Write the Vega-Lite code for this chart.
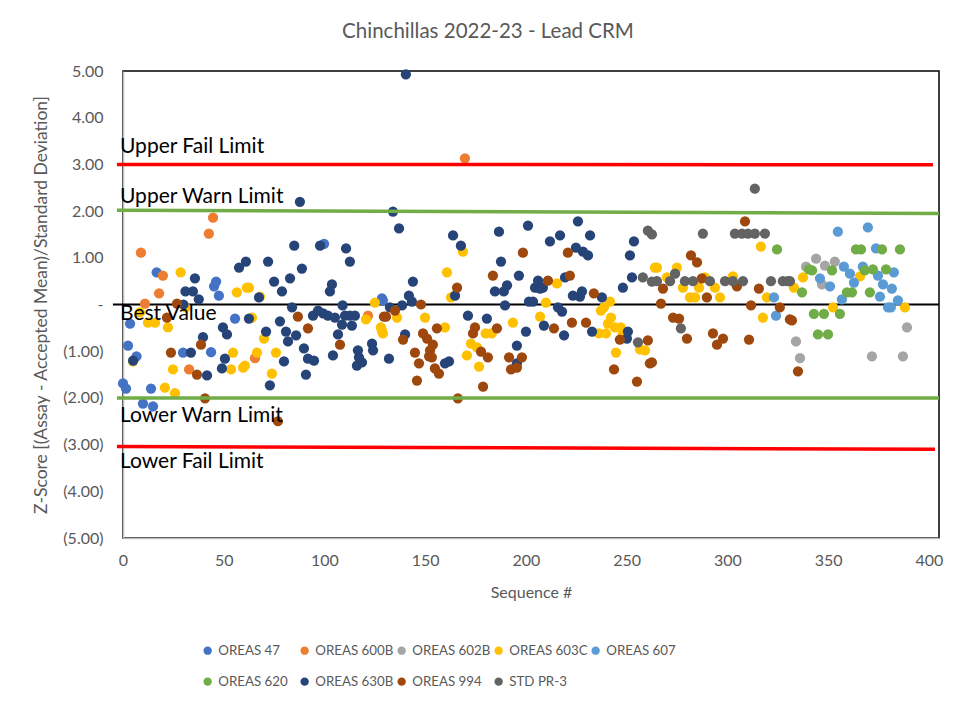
{
  "$schema": "https://vega.github.io/schema/vega-lite/v6.json",
  "autosize": "none",
  "width": 816,
  "height": 467,
  "padding": {"left": 123, "top": 71, "right": 38, "bottom": 173},
  "background": "white",
  "config": {
    "font": "Lato",
    "view": {"stroke": "black", "strokeWidth": 1.5}
  },
  "title": {
    "text": "Chinchillas 2022-23 - Lead CRM",
    "fontSize": 20.5,
    "fontWeight": "normal",
    "color": "#595959",
    "anchor": "middle",
    "dx": -43,
    "offset": 21
  },
  "datasets": {
    "points": [
      {"std": "OREAS 47", "seq": 0, "z": -1.69},
      {"std": "OREAS 47", "seq": 1.5, "z": -1.8},
      {"std": "OREAS 47", "seq": 2.5, "z": -0.88},
      {"std": "OREAS 47", "seq": 3.5, "z": -0.41},
      {"std": "OREAS 47", "seq": 6.7, "z": -1.11},
      {"std": "OREAS 47", "seq": 9.9, "z": -2.12},
      {"std": "OREAS 47", "seq": 13.9, "z": -1.8},
      {"std": "OREAS 47", "seq": 14.9, "z": -2.18},
      {"std": "OREAS 47", "seq": 16.7, "z": 0.69},
      {"std": "OREAS 47", "seq": 29.8, "z": -1.03},
      {"std": "OREAS 47", "seq": 43.7, "z": -1.02},
      {"std": "OREAS 47", "seq": 45.2, "z": 0.39},
      {"std": "OREAS 47", "seq": 46.2, "z": 0.49},
      {"std": "OREAS 47", "seq": 47.6, "z": 0.19},
      {"std": "OREAS 47", "seq": 55.6, "z": -0.3},
      {"std": "OREAS 47", "seq": 99.8, "z": 1.3},
      {"std": "OREAS 47", "seq": 128.5, "z": 0.13},
      {"std": "OREAS 47", "seq": 129, "z": 0.09},
      {"std": "OREAS 600B", "seq": 8.9, "z": 1.11},
      {"std": "OREAS 600B", "seq": 10.9, "z": 0.02},
      {"std": "OREAS 600B", "seq": 17.9, "z": 0.24},
      {"std": "OREAS 600B", "seq": 19.8, "z": 0.62},
      {"std": "OREAS 600B", "seq": 32.8, "z": -1.39},
      {"std": "OREAS 600B", "seq": 42.6, "z": 1.52},
      {"std": "OREAS 600B", "seq": 44.7, "z": 1.86},
      {"std": "OREAS 600B", "seq": 65.5, "z": -1.15},
      {"std": "OREAS 600B", "seq": 121.6, "z": -0.24},
      {"std": "OREAS 600B", "seq": 169.7, "z": 3.13},
      {"std": "OREAS 602B", "seq": 334, "z": -0.79},
      {"std": "OREAS 602B", "seq": 336, "z": -1.15},
      {"std": "OREAS 602B", "seq": 339, "z": 0.81},
      {"std": "OREAS 602B", "seq": 344, "z": 0.98},
      {"std": "OREAS 602B", "seq": 346.9, "z": 0.43},
      {"std": "OREAS 602B", "seq": 348.4, "z": 0.83},
      {"std": "OREAS 602B", "seq": 353.3, "z": 0.92},
      {"std": "OREAS 602B", "seq": 371.7, "z": -1.11},
      {"std": "OREAS 602B", "seq": 387.1, "z": -1.11},
      {"std": "OREAS 602B", "seq": 389.1, "z": -0.49},
      {"std": "OREAS 603C", "seq": 5, "z": -1.22},
      {"std": "OREAS 603C", "seq": 8.4, "z": -0.17},
      {"std": "OREAS 603C", "seq": 12.4, "z": -0.39},
      {"std": "OREAS 603C", "seq": 15.9, "z": -0.39},
      {"std": "OREAS 603C", "seq": 20.8, "z": -1.78},
      {"std": "OREAS 603C", "seq": 22.3, "z": -0.49},
      {"std": "OREAS 603C", "seq": 24.8, "z": -1.39},
      {"std": "OREAS 603C", "seq": 25.8, "z": -1.9},
      {"std": "OREAS 603C", "seq": 28.6, "z": 0.69},
      {"std": "OREAS 603C", "seq": 31, "z": -0.06},
      {"std": "OREAS 603C", "seq": 53.6, "z": -1.39},
      {"std": "OREAS 603C", "seq": 54.6, "z": -1.03},
      {"std": "OREAS 603C", "seq": 56.5, "z": 0.26},
      {"std": "OREAS 603C", "seq": 59.6, "z": -1.35},
      {"std": "OREAS 603C", "seq": 60.5, "z": -1.31},
      {"std": "OREAS 603C", "seq": 61.5, "z": 0.36},
      {"std": "OREAS 603C", "seq": 62.5, "z": 0.36},
      {"std": "OREAS 603C", "seq": 64, "z": -0.28},
      {"std": "OREAS 603C", "seq": 66.5, "z": -1.03},
      {"std": "OREAS 603C", "seq": 68, "z": 0.17},
      {"std": "OREAS 603C", "seq": 70, "z": -0.73},
      {"std": "OREAS 603C", "seq": 73.9, "z": -1.48},
      {"std": "OREAS 603C", "seq": 75.9, "z": -1.03},
      {"std": "OREAS 603C", "seq": 120.6, "z": -0.32},
      {"std": "OREAS 603C", "seq": 125, "z": 0.04},
      {"std": "OREAS 603C", "seq": 128.5, "z": -0.56},
      {"std": "OREAS 603C", "seq": 128, "z": -0.49},
      {"std": "OREAS 603C", "seq": 129, "z": -0.62},
      {"std": "OREAS 603C", "seq": 136, "z": -0.28},
      {"std": "OREAS 603C", "seq": 149.9, "z": -0.28},
      {"std": "OREAS 603C", "seq": 159.8, "z": -0.49},
      {"std": "OREAS 603C", "seq": 160.8, "z": 0.69},
      {"std": "OREAS 603C", "seq": 162.8, "z": 0.15},
      {"std": "OREAS 603C", "seq": 168.7, "z": 1.13},
      {"std": "OREAS 603C", "seq": 170.7, "z": -1.09},
      {"std": "OREAS 603C", "seq": 172.7, "z": -0.84},
      {"std": "OREAS 603C", "seq": 175.7, "z": -0.92},
      {"std": "OREAS 603C", "seq": 176.7, "z": -1.33},
      {"std": "OREAS 603C", "seq": 180, "z": -0.62},
      {"std": "OREAS 603C", "seq": 183, "z": -0.62},
      {"std": "OREAS 603C", "seq": 193.5, "z": -0.39},
      {"std": "OREAS 603C", "seq": 207, "z": -0.26},
      {"std": "OREAS 603C", "seq": 209.9, "z": 0.04},
      {"std": "OREAS 603C", "seq": 215.4, "z": 0.45},
      {"std": "OREAS 603C", "seq": 236.2, "z": -0.62},
      {"std": "OREAS 603C", "seq": 237.2, "z": -0.13},
      {"std": "OREAS 603C", "seq": 238.7, "z": -0.06},
      {"std": "OREAS 603C", "seq": 239.7, "z": -0.62},
      {"std": "OREAS 603C", "seq": 240.7, "z": -0.41},
      {"std": "OREAS 603C", "seq": 241.7, "z": 0.06},
      {"std": "OREAS 603C", "seq": 242.2, "z": -0.28},
      {"std": "OREAS 603C", "seq": 244.2, "z": -0.49},
      {"std": "OREAS 603C", "seq": 244.7, "z": -1.03},
      {"std": "OREAS 603C", "seq": 247.1, "z": -0.49},
      {"std": "OREAS 603C", "seq": 248.1, "z": -0.62},
      {"std": "OREAS 603C", "seq": 256.6, "z": -0.96},
      {"std": "OREAS 603C", "seq": 259.1, "z": -0.98},
      {"std": "OREAS 603C", "seq": 264, "z": 0.79},
      {"std": "OREAS 603C", "seq": 265, "z": 0.79},
      {"std": "OREAS 603C", "seq": 270, "z": 0.58},
      {"std": "OREAS 603C", "seq": 274.9, "z": 0.79},
      {"std": "OREAS 603C", "seq": 277.9, "z": 0.36},
      {"std": "OREAS 603C", "seq": 281.4, "z": 0.15},
      {"std": "OREAS 603C", "seq": 283.9, "z": 0.15},
      {"std": "OREAS 603C", "seq": 285.9, "z": 0.36},
      {"std": "OREAS 603C", "seq": 288.8, "z": 0.58},
      {"std": "OREAS 603C", "seq": 293.8, "z": 0.36},
      {"std": "OREAS 603C", "seq": 296.3, "z": 0.15},
      {"std": "OREAS 603C", "seq": 302.7, "z": 0.6},
      {"std": "OREAS 603C", "seq": 316.6, "z": 1.24},
      {"std": "OREAS 603C", "seq": 317.6, "z": -0.28},
      {"std": "OREAS 603C", "seq": 319.6, "z": 0.15},
      {"std": "OREAS 603C", "seq": 333, "z": 0.36},
      {"std": "OREAS 603C", "seq": 337.5, "z": 0.58},
      {"std": "OREAS 603C", "seq": 352.4, "z": -0.06},
      {"std": "OREAS 603C", "seq": 365.8, "z": 0.6},
      {"std": "OREAS 603C", "seq": 388.1, "z": -0.06},
      {"std": "OREAS 607", "seq": 323.1, "z": 0.15},
      {"std": "OREAS 607", "seq": 324.1, "z": -0.24},
      {"std": "OREAS 607", "seq": 345.9, "z": 0.56},
      {"std": "OREAS 607", "seq": 350.9, "z": 0.39},
      {"std": "OREAS 607", "seq": 354.8, "z": 1.56},
      {"std": "OREAS 607", "seq": 356.8, "z": 0.11},
      {"std": "OREAS 607", "seq": 357.8, "z": 0.81},
      {"std": "OREAS 607", "seq": 360.8, "z": 0.66},
      {"std": "OREAS 607", "seq": 362.8, "z": 0.47},
      {"std": "OREAS 607", "seq": 367.2, "z": 0.81},
      {"std": "OREAS 607", "seq": 369.7, "z": 1.65},
      {"std": "OREAS 607", "seq": 373.7, "z": 1.2},
      {"std": "OREAS 607", "seq": 374.7, "z": 0.62},
      {"std": "OREAS 607", "seq": 375.7, "z": 0.17},
      {"std": "OREAS 607", "seq": 377.2, "z": 0.43},
      {"std": "OREAS 607", "seq": 379.7, "z": -0.06},
      {"std": "OREAS 607", "seq": 381.1, "z": -0.06},
      {"std": "OREAS 607", "seq": 381.6, "z": 0.34},
      {"std": "OREAS 607", "seq": 382.6, "z": 0.69},
      {"std": "OREAS 607", "seq": 384.6, "z": 0.09},
      {"std": "OREAS 620", "seq": 324.6, "z": 1.18},
      {"std": "OREAS 620", "seq": 337, "z": 0.26},
      {"std": "OREAS 620", "seq": 340.5, "z": 0.75},
      {"std": "OREAS 620", "seq": 342, "z": 0.73},
      {"std": "OREAS 620", "seq": 342.9, "z": -0.2},
      {"std": "OREAS 620", "seq": 344.9, "z": -0.64},
      {"std": "OREAS 620", "seq": 347.9, "z": -0.2},
      {"std": "OREAS 620", "seq": 349.9, "z": -0.64},
      {"std": "OREAS 620", "seq": 351.9, "z": 0.73},
      {"std": "OREAS 620", "seq": 355.8, "z": -0.2},
      {"std": "OREAS 620", "seq": 359.3, "z": 0.26},
      {"std": "OREAS 620", "seq": 361.8, "z": 0.26},
      {"std": "OREAS 620", "seq": 363.8, "z": 1.18},
      {"std": "OREAS 620", "seq": 366.3, "z": 1.18},
      {"std": "OREAS 620", "seq": 368.2, "z": 0.73},
      {"std": "OREAS 620", "seq": 370.7, "z": 0.26},
      {"std": "OREAS 620", "seq": 372.2, "z": 0.75},
      {"std": "OREAS 620", "seq": 376.7, "z": 1.18},
      {"std": "OREAS 620", "seq": 378.7, "z": 0.75},
      {"std": "OREAS 620", "seq": 385.6, "z": 1.18},
      {"std": "OREAS 630B", "seq": 5, "z": -1.2},
      {"std": "OREAS 630B", "seq": 30, "z": 0},
      {"std": "OREAS 630B", "seq": 31, "z": 0.28},
      {"std": "OREAS 630B", "seq": 33.7, "z": -1.03},
      {"std": "OREAS 630B", "seq": 34.7, "z": 0.28},
      {"std": "OREAS 630B", "seq": 35.7, "z": 0.56},
      {"std": "OREAS 630B", "seq": 37.6, "z": 0.11},
      {"std": "OREAS 630B", "seq": 39.7, "z": -0.7},
      {"std": "OREAS 630B", "seq": 41.7, "z": -1.52},
      {"std": "OREAS 630B", "seq": 49.1, "z": -1.37},
      {"std": "OREAS 630B", "seq": 49.6, "z": -0.49},
      {"std": "OREAS 630B", "seq": 50.6, "z": -1.16},
      {"std": "OREAS 630B", "seq": 51.6, "z": -0.64},
      {"std": "OREAS 630B", "seq": 57.6, "z": 0.79},
      {"std": "OREAS 630B", "seq": 61, "z": 0.92},
      {"std": "OREAS 630B", "seq": 62.5, "z": -0.3},
      {"std": "OREAS 630B", "seq": 67.5, "z": 0.15},
      {"std": "OREAS 630B", "seq": 71, "z": -0.58},
      {"std": "OREAS 630B", "seq": 72, "z": 0.92},
      {"std": "OREAS 630B", "seq": 72.9, "z": -1.73},
      {"std": "OREAS 630B", "seq": 75, "z": 0.49},
      {"std": "OREAS 630B", "seq": 77.9, "z": -0.36},
      {"std": "OREAS 630B", "seq": 78.9, "z": 0.28},
      {"std": "OREAS 630B", "seq": 79.9, "z": -1.22},
      {"std": "OREAS 630B", "seq": 80.9, "z": -0.58},
      {"std": "OREAS 630B", "seq": 81.9, "z": -0.79},
      {"std": "OREAS 630B", "seq": 82.9, "z": 0.56},
      {"std": "OREAS 630B", "seq": 83.9, "z": -0.06},
      {"std": "OREAS 630B", "seq": 85, "z": 1.26},
      {"std": "OREAS 630B", "seq": 85.9, "z": -0.66},
      {"std": "OREAS 630B", "seq": 87.8, "z": 2.2},
      {"std": "OREAS 630B", "seq": 88.8, "z": 0.77},
      {"std": "OREAS 630B", "seq": 89.8, "z": -0.94},
      {"std": "OREAS 630B", "seq": 90.8, "z": -1.5},
      {"std": "OREAS 630B", "seq": 91.8, "z": -1.16},
      {"std": "OREAS 630B", "seq": 94.3, "z": -0.24},
      {"std": "OREAS 630B", "seq": 94.8, "z": -1.2},
      {"std": "OREAS 630B", "seq": 96.8, "z": -0.13},
      {"std": "OREAS 630B", "seq": 97.8, "z": 1.26},
      {"std": "OREAS 630B", "seq": 99.3, "z": -0.19},
      {"std": "OREAS 630B", "seq": 101.7, "z": -0.24},
      {"std": "OREAS 630B", "seq": 102.7, "z": 0.28},
      {"std": "OREAS 630B", "seq": 103.7, "z": 0.43},
      {"std": "OREAS 630B", "seq": 104.2, "z": -1.09},
      {"std": "OREAS 630B", "seq": 105.2, "z": -0.28},
      {"std": "OREAS 630B", "seq": 106.7, "z": -0.64},
      {"std": "OREAS 630B", "seq": 108.7, "z": -0.43},
      {"std": "OREAS 630B", "seq": 109, "z": -0.02},
      {"std": "OREAS 630B", "seq": 110.2, "z": -0.24},
      {"std": "OREAS 630B", "seq": 110.7, "z": 1.2},
      {"std": "OREAS 630B", "seq": 112.6, "z": -0.24},
      {"std": "OREAS 630B", "seq": 112.6, "z": 0.92},
      {"std": "OREAS 630B", "seq": 113.6, "z": -0.45},
      {"std": "OREAS 630B", "seq": 115.1, "z": -0.24},
      {"std": "OREAS 630B", "seq": 116.1, "z": -1.31},
      {"std": "OREAS 630B", "seq": 116.6, "z": -0.98},
      {"std": "OREAS 630B", "seq": 117.1, "z": -1.13},
      {"std": "OREAS 630B", "seq": 118.6, "z": -1.24},
      {"std": "OREAS 630B", "seq": 123.6, "z": -0.84},
      {"std": "OREAS 630B", "seq": 124.1, "z": -0.98},
      {"std": "OREAS 630B", "seq": 132, "z": -1.16},
      {"std": "OREAS 630B", "seq": 132.5, "z": -0.06},
      {"std": "OREAS 630B", "seq": 134, "z": 1.99},
      {"std": "OREAS 630B", "seq": 137, "z": 1.63},
      {"std": "OREAS 630B", "seq": 138.5, "z": -0.02},
      {"std": "OREAS 630B", "seq": 140, "z": -0.64},
      {"std": "OREAS 630B", "seq": 140.4, "z": 4.93},
      {"std": "OREAS 630B", "seq": 141.9, "z": 0.19},
      {"std": "OREAS 630B", "seq": 143.4, "z": 0.06},
      {"std": "OREAS 630B", "seq": 143.9, "z": 0.49},
      {"std": "OREAS 630B", "seq": 159.8, "z": -1.26},
      {"std": "OREAS 630B", "seq": 161.8, "z": -1.22},
      {"std": "OREAS 630B", "seq": 163.8, "z": 1.48},
      {"std": "OREAS 630B", "seq": 164.8, "z": 0.19},
      {"std": "OREAS 630B", "seq": 167.7, "z": 1.26},
      {"std": "OREAS 630B", "seq": 171.2, "z": -0.24},
      {"std": "OREAS 630B", "seq": 180.6, "z": -0.3},
      {"std": "OREAS 630B", "seq": 184.6, "z": 0.28},
      {"std": "OREAS 630B", "seq": 186.6, "z": 1.56},
      {"std": "OREAS 630B", "seq": 187.6, "z": 0.92},
      {"std": "OREAS 630B", "seq": 189, "z": 0.28},
      {"std": "OREAS 630B", "seq": 189.6, "z": -0.02},
      {"std": "OREAS 630B", "seq": 190.6, "z": 0.41},
      {"std": "OREAS 630B", "seq": 195.5, "z": -0.88},
      {"std": "OREAS 630B", "seq": 195.5, "z": -1.26},
      {"std": "OREAS 630B", "seq": 196.5, "z": 0.62},
      {"std": "OREAS 630B", "seq": 200, "z": -0.58},
      {"std": "OREAS 630B", "seq": 201, "z": 1.69},
      {"std": "OREAS 630B", "seq": 201.5, "z": 0.06},
      {"std": "OREAS 630B", "seq": 203.5, "z": 0.06},
      {"std": "OREAS 630B", "seq": 204.5, "z": 0.36},
      {"std": "OREAS 630B", "seq": 206, "z": 0.51},
      {"std": "OREAS 630B", "seq": 207, "z": 0.34},
      {"std": "OREAS 630B", "seq": 208.4, "z": 0.36},
      {"std": "OREAS 630B", "seq": 208.9, "z": -0.45},
      {"std": "OREAS 630B", "seq": 211.9, "z": 1.35},
      {"std": "OREAS 630B", "seq": 215.9, "z": -0.06},
      {"std": "OREAS 630B", "seq": 216.9, "z": 1.48},
      {"std": "OREAS 630B", "seq": 217.9, "z": -0.15},
      {"std": "OREAS 630B", "seq": 218.9, "z": -0.66},
      {"std": "OREAS 630B", "seq": 219.4, "z": 0.58},
      {"std": "OREAS 630B", "seq": 223.3, "z": 0.19},
      {"std": "OREAS 630B", "seq": 224.8, "z": 1.22},
      {"std": "OREAS 630B", "seq": 225.8, "z": 1.78},
      {"std": "OREAS 630B", "seq": 226.8, "z": 0.17},
      {"std": "OREAS 630B", "seq": 227.8, "z": 0.28},
      {"std": "OREAS 630B", "seq": 228.3, "z": 1.13},
      {"std": "OREAS 630B", "seq": 230.8, "z": 1.05},
      {"std": "OREAS 630B", "seq": 231.8, "z": 1.48},
      {"std": "OREAS 630B", "seq": 232.8, "z": -0.58},
      {"std": "OREAS 630B", "seq": 237.7, "z": 0.15},
      {"std": "OREAS 630B", "seq": 248.1, "z": 0.36},
      {"std": "OREAS 630B", "seq": 250.1, "z": -0.73},
      {"std": "OREAS 630B", "seq": 250.6, "z": -0.58},
      {"std": "OREAS 630B", "seq": 251.6, "z": 1.05},
      {"std": "OREAS 630B", "seq": 252.6, "z": 0.58},
      {"std": "OREAS 630B", "seq": 253.6, "z": 1.35},
      {"std": "OREAS 994", "seq": 21.8, "z": -0.28},
      {"std": "OREAS 994", "seq": 23.8, "z": -1.03},
      {"std": "OREAS 994", "seq": 26.8, "z": 0.02},
      {"std": "OREAS 994", "seq": 36.7, "z": -1.5},
      {"std": "OREAS 994", "seq": 38.7, "z": -0.86},
      {"std": "OREAS 994", "seq": 40.7, "z": -2.01},
      {"std": "OREAS 994", "seq": 76.9, "z": -2.5},
      {"std": "OREAS 994", "seq": 86.8, "z": -0.26},
      {"std": "OREAS 994", "seq": 91.8, "z": -0.51},
      {"std": "OREAS 994", "seq": 107.7, "z": -0.86},
      {"std": "OREAS 994", "seq": 129.5, "z": -0.26},
      {"std": "OREAS 994", "seq": 130.5, "z": -0.26},
      {"std": "OREAS 994", "seq": 135, "z": -0.13},
      {"std": "OREAS 994", "seq": 139, "z": -0.75},
      {"std": "OREAS 994", "seq": 144.9, "z": -1.03},
      {"std": "OREAS 994", "seq": 145.9, "z": -1.63},
      {"std": "OREAS 994", "seq": 146.9, "z": -1.26},
      {"std": "OREAS 994", "seq": 147.9, "z": 0},
      {"std": "OREAS 994", "seq": 148.9, "z": -0.62},
      {"std": "OREAS 994", "seq": 150.9, "z": -0.73},
      {"std": "OREAS 994", "seq": 151.9, "z": -1.11},
      {"std": "OREAS 994", "seq": 152.4, "z": -0.98},
      {"std": "OREAS 994", "seq": 153.3, "z": -1.13},
      {"std": "OREAS 994", "seq": 153.8, "z": -0.86},
      {"std": "OREAS 994", "seq": 154.8, "z": -1.37},
      {"std": "OREAS 994", "seq": 155.8, "z": -0.51},
      {"std": "OREAS 994", "seq": 156.8, "z": -1.48},
      {"std": "OREAS 994", "seq": 165.8, "z": 0.36},
      {"std": "OREAS 994", "seq": 166.2, "z": -2.01},
      {"std": "OREAS 994", "seq": 173.7, "z": -0.62},
      {"std": "OREAS 994", "seq": 174.7, "z": -0.49},
      {"std": "OREAS 994", "seq": 177.7, "z": -1.01},
      {"std": "OREAS 994", "seq": 178.7, "z": -1.76},
      {"std": "OREAS 994", "seq": 181.1, "z": -1.13},
      {"std": "OREAS 994", "seq": 183.6, "z": 0.62},
      {"std": "OREAS 994", "seq": 185.6, "z": -0.51},
      {"std": "OREAS 994", "seq": 191.6, "z": -1.13},
      {"std": "OREAS 994", "seq": 192.6, "z": -1.39},
      {"std": "OREAS 994", "seq": 195.5, "z": -1.35},
      {"std": "OREAS 994", "seq": 198, "z": -1.13},
      {"std": "OREAS 994", "seq": 198.5, "z": 1.11},
      {"std": "OREAS 994", "seq": 210.9, "z": 0.51},
      {"std": "OREAS 994", "seq": 213.9, "z": -0.51},
      {"std": "OREAS 994", "seq": 220.8, "z": 1.11},
      {"std": "OREAS 994", "seq": 221.8, "z": 0.62},
      {"std": "OREAS 994", "seq": 222.8, "z": -0.39},
      {"std": "OREAS 994", "seq": 229.8, "z": -0.39},
      {"std": "OREAS 994", "seq": 233.7, "z": 0.24},
      {"std": "OREAS 994", "seq": 243.7, "z": -1.39},
      {"std": "OREAS 994", "seq": 246.6, "z": -0.75},
      {"std": "OREAS 994", "seq": 255.1, "z": -1.65},
      {"std": "OREAS 994", "seq": 260.5, "z": -0.77},
      {"std": "OREAS 994", "seq": 261.5, "z": -1.26},
      {"std": "OREAS 994", "seq": 262.5, "z": -1.24},
      {"std": "OREAS 994", "seq": 267, "z": 0.02},
      {"std": "OREAS 994", "seq": 268, "z": 0.34},
      {"std": "OREAS 994", "seq": 273, "z": -0.28},
      {"std": "OREAS 994", "seq": 276, "z": -0.3},
      {"std": "OREAS 994", "seq": 279.9, "z": -0.73},
      {"std": "OREAS 994", "seq": 281.9, "z": 1.05},
      {"std": "OREAS 994", "seq": 284.9, "z": 0.9},
      {"std": "OREAS 994", "seq": 287.3, "z": 0.56},
      {"std": "OREAS 994", "seq": 289.8, "z": 0.15},
      {"std": "OREAS 994", "seq": 292.8, "z": -0.62},
      {"std": "OREAS 994", "seq": 294.8, "z": -0.86},
      {"std": "OREAS 994", "seq": 297.8, "z": -0.73},
      {"std": "OREAS 994", "seq": 304.7, "z": 0.39},
      {"std": "OREAS 994", "seq": 308.7, "z": 1.78},
      {"std": "OREAS 994", "seq": 310.7, "z": -0.75},
      {"std": "OREAS 994", "seq": 311.7, "z": -0.02},
      {"std": "OREAS 994", "seq": 315.6, "z": 0.34},
      {"std": "OREAS 994", "seq": 326, "z": -0.06},
      {"std": "OREAS 994", "seq": 331, "z": -0.32},
      {"std": "OREAS 994", "seq": 332, "z": -0.34},
      {"std": "OREAS 994", "seq": 335, "z": -1.43},
      {"std": "STD PR-3", "seq": 255.6, "z": -0.81},
      {"std": "STD PR-3", "seq": 258, "z": 0.58},
      {"std": "STD PR-3", "seq": 260.5, "z": 1.58},
      {"std": "STD PR-3", "seq": 262.5, "z": 1.5},
      {"std": "STD PR-3", "seq": 262.5, "z": 0.49},
      {"std": "STD PR-3", "seq": 265, "z": 0.5},
      {"std": "STD PR-3", "seq": 271.5, "z": 0.5},
      {"std": "STD PR-3", "seq": 274, "z": 0.66},
      {"std": "STD PR-3", "seq": 276.9, "z": -0.51},
      {"std": "STD PR-3", "seq": 278.9, "z": 0.5},
      {"std": "STD PR-3", "seq": 282.9, "z": 0.5},
      {"std": "STD PR-3", "seq": 287.8, "z": 1.52},
      {"std": "STD PR-3", "seq": 291.3, "z": 0.5},
      {"std": "STD PR-3", "seq": 298.8, "z": 0.5},
      {"std": "STD PR-3", "seq": 302.7, "z": 0.5},
      {"std": "STD PR-3", "seq": 303.7, "z": 1.52},
      {"std": "STD PR-3", "seq": 307.2, "z": 1.52},
      {"std": "STD PR-3", "seq": 307.7, "z": 0.5},
      {"std": "STD PR-3", "seq": 310.2, "z": 1.52},
      {"std": "STD PR-3", "seq": 313.6, "z": 2.48},
      {"std": "STD PR-3", "seq": 313.6, "z": 1.52},
      {"std": "STD PR-3", "seq": 318.6, "z": 1.52},
      {"std": "STD PR-3", "seq": 321.6, "z": 0.5},
      {"std": "STD PR-3", "seq": 327.5, "z": 0.5},
      {"std": "STD PR-3", "seq": 330, "z": 0.5},
      {"std": "STD PR-3", "seq": 331, "z": 0.5}
    ],
    "limits": [
      {"lim": "Upper Fail", "seq": -3, "z": 3.0},
      {"lim": "Upper Fail", "seq": 402, "z": 2.99},
      {"lim": "Upper Warn", "seq": -3, "z": 2.02},
      {"lim": "Upper Warn", "seq": 405, "z": 1.95},
      {"lim": "Lower Warn", "seq": -3, "z": -2.0},
      {"lim": "Lower Warn", "seq": 405, "z": -2.0},
      {"lim": "Lower Fail", "seq": -3, "z": -3.04},
      {"lim": "Lower Fail", "seq": 403, "z": -3.1},
      {"lim": "Best", "seq": -5, "z": 0},
      {"lim": "Best", "seq": 405, "z": 0}
    ],
    "labels": [
      {"label": "Upper Fail Limit", "seq": -1.5, "z": 3.25},
      {"label": "Upper Warn Limit", "seq": -1.5, "z": 2.18},
      {"label": "Best Value", "seq": -1.5, "z": -0.34},
      {"label": "Lower Warn Limit", "seq": -1.5, "z": -2.51},
      {"label": "Lower Fail Limit", "seq": -1.5, "z": -3.51}
    ]
  },
  "encoding": {
    "x": {
      "field": "seq",
      "type": "quantitative",
      "scale": {"domain": [0, 405], "nice": false, "zero": false},
      "axis": {
        "title": "Sequence #",
        "values": [0, 50, 100, 150, 200, 250, 300, 350, 400],
        "grid": false,
        "ticks": false,
        "labelFlush": false,
        "domainColor": "#BFBFBF",
        "domainWidth": 1.5,
        "labelColor": "#595959",
        "labelFontSize": 16,
        "labelPadding": 14,
        "titleColor": "#595959",
        "titleFontSize": 16,
        "titleFontWeight": "normal",
        "titlePadding": 16
      }
    },
    "y": {
      "field": "z",
      "type": "quantitative",
      "scale": {"domain": [-5, 5], "nice": false},
      "axis": {
        "title": "Z-Score [(Assay - Accepted Mean)/Standard Deviation]",
        "values": [-5, -4, -3, -2, -1, 0, 1, 2, 3, 4, 5],
        "labelExpr": "datum.value > 0 ? format(datum.value, '.2f') : datum.value < 0 ? '(' + format(-datum.value, '.2f') + ')' : '-\u00a0\u00a0\u00a0'",
        "grid": false,
        "ticks": false,
        "labelFlush": false,
        "domainColor": "#BFBFBF",
        "domainWidth": 1.5,
        "labelColor": "#595959",
        "labelFontSize": 16,
        "labelPadding": 20,
        "titleColor": "#595959",
        "titleFontSize": 17.5,
        "titleFontWeight": "normal",
        "titlePadding": 12
      }
    }
  },
  "layer": [
    {
      "data": {"name": "limits"},
      "transform": [{"filter": "datum.lim === 'Best'"}],
      "mark": {"type": "line", "color": "black", "strokeWidth": 2},
      "encoding": {}
    },
    {
      "data": {"name": "points"},
      "mark": {"type": "circle", "size": 105, "opacity": 1},
      "encoding": {
        "color": {
          "field": "std",
          "type": "nominal",
          "scale": {
            "domain": ["OREAS 47", "OREAS 600B", "OREAS 602B", "OREAS 603C", "OREAS 607", "OREAS 620", "OREAS 630B", "OREAS 994", "STD PR-3"],
            "range": ["#4472C4", "#ED7D31", "#A5A5A5", "#FFC000", "#5B9BD5", "#70AD47", "#264478", "#9E480E", "#636363"]
          },
          "legend": {
            "title": null,
            "orient": "none",
            "direction": "horizontal",
            "columns": 5,
            "legendX": 78,
            "legendY": 573,
            "gridAlign": "all",
            "columnPadding": 1,
            "rowPadding": 17,
            "symbolType": "circle",
            "symbolSize": 70,
            "symbolStrokeWidth": 0,
            "labelFontSize": 13.3,
            "labelColor": "#595959",
            "labelOffset": 4
          }
        }
      }
    },
    {
      "data": {"name": "limits"},
      "transform": [{"filter": "datum.lim === 'Upper Fail' || datum.lim === 'Lower Fail'"}],
      "mark": {"type": "line", "color": "#FF0000", "strokeWidth": 3.5},
      "encoding": {"detail": {"field": "lim"}}
    },
    {
      "data": {"name": "limits"},
      "transform": [{"filter": "datum.lim === 'Upper Warn' || datum.lim === 'Lower Warn'"}],
      "mark": {"type": "line", "color": "#70AD47", "strokeWidth": 3.5},
      "encoding": {"detail": {"field": "lim"}}
    },
    {
      "data": {"name": "labels"},
      "mark": {"type": "text", "align": "left", "baseline": "alphabetic", "fontSize": 21, "color": "black"},
      "encoding": {
        "text": {"field": "label"},
        "fontWeight": {"condition": {"test": "datum.label === 'Best Value'", "value": "bold"}, "value": "normal"}
      }
    }
  ]
}
